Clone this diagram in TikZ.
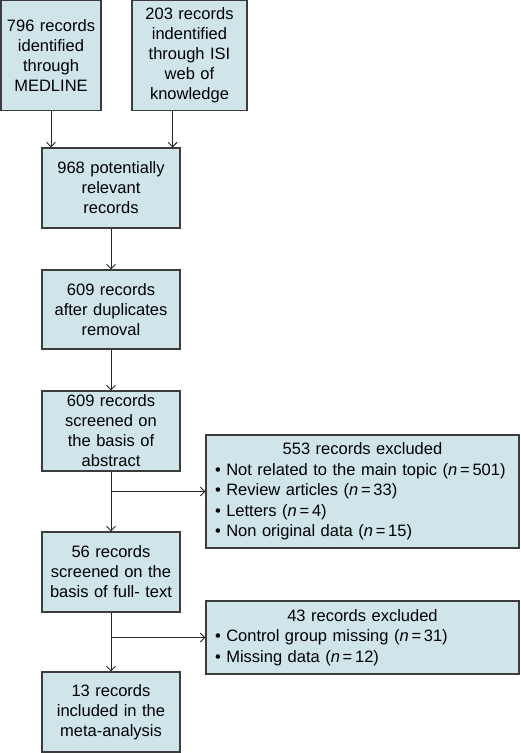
\documentclass[tikz,border=0pt]{standalone}
\usepackage{fontspec}
\setmainfont{Liberation Sans}
\usetikzlibrary{arrows.meta,calc}
\definecolor{boxfill}{RGB}{207,229,234}
\definecolor{boxline}{RGB}{60,60,60}
\newcommand{\nis}[1]{(\textit{n}\,=\,#1)}
\begin{document}
\begin{tikzpicture}[x=1pt,y=-1pt,
 box/.style={draw=boxline,fill=boxfill,line width=1.1pt,inner sep=0pt,align=center,font=\fontsize{16.5}{20}\selectfont},
 rbox/.style={box,align=left,text width=295pt,minimum width=313pt,font=\fontsize{16.5}{20.5}\selectfont},
 arr/.style={draw=black!85,line width=0.9pt,-{Straight Barb[length=4.5pt,width=9pt]}}]
\useasboundingbox (0,0) rectangle (520,753);
\node[box,minimum width=100pt,minimum height=110pt,text width=96pt] (A) at (51,55.5) {796 records\\identified\\through\\MEDLINE};
\node[box,minimum width=115pt,minimum height=110pt,text width=110pt] (B) at (189.5,55.5) {203 records\\indentified\\through ISI\\web of\\knowledge};
\node[box,minimum width=138pt,minimum height=80pt,text width=132pt] (C) at (111,188) {968 potentially\\relevant\\records};
\node[box,minimum width=138pt,minimum height=79pt,text width=132pt] (D) at (111,309.5) {609 records\\after duplicates\\removal};
\node[box,minimum width=138pt,minimum height=80pt,text width=132pt] (E) at (111,431) {609 records\\screened on\\the basis of\\abstract};
\node[box,minimum width=138pt,minimum height=80pt,text width=132pt] (F) at (111,572) {56 records\\screened on the\\basis of full- text};
\node[box,minimum width=138pt,minimum height=80pt,text width=132pt] (G) at (111,712) {13 records\\included in the\\meta-analysis};
\node[rbox,minimum height=113pt] (R1) at (362.5,491.5) {\makebox[\linewidth][c]{553 records excluded}\\
\mbox{\textbullet\ Not related to the main topic \nis{501}}\\
\textbullet\ Review articles \nis{33}\\
\textbullet\ Letters \nis{4}\\
\textbullet\ Non original data \nis{15}};
\node[rbox,minimum height=73pt] (R2) at (362.5,637.5) {\makebox[\linewidth][c]{43 records excluded}\\
\textbullet\ Control group missing \nis{31}\\
\textbullet\ Missing data \nis{12}};
\draw[arr] (A.south) -- (A.south |- C.north);
\coordinate (cb) at ($(C.north east)+(-8,0)$);
\draw[arr] (B.south -| cb) -- (cb);
\draw[arr] (C.south) -- (D.north);
\draw[arr] (D.south) -- (E.north);
\draw[arr] (E.south) -- (F.north);
\draw[arr] (E.south |- R1.west) -- (R1.west);
\draw[arr] (F.south) -- (G.north);
\draw[arr] (F.south |- R2.west) -- (R2.west);
\end{tikzpicture}
\end{document}
